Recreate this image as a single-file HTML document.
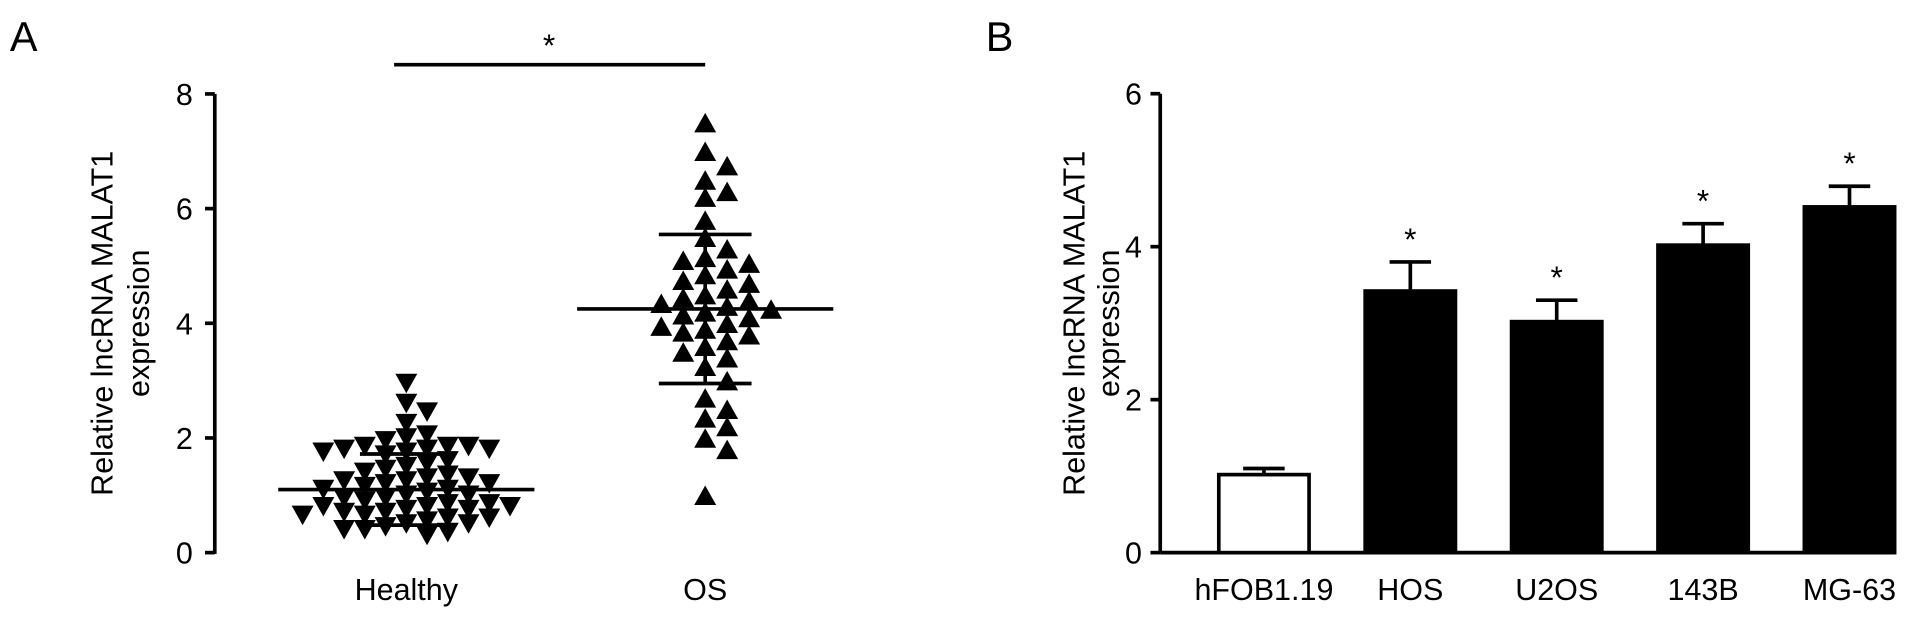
<!DOCTYPE html>
<html><head><meta charset="utf-8">
<style>
body{margin:0;background:#fff;}
svg{display:block;font-family:"Liberation Sans",Arial,sans-serif;}
</style></head>
<body>
<svg id="fig" width="1913" height="624" viewBox="0 0 1568 511.5">
<text x="8" y="42" font-size="34">A</text>
<text x="808" y="42" font-size="34">B</text>
<g id="pa"></g>
<g id="pb"></g>
</svg>
<script>
const healthyValues=[2.95,2.6,2.45,2.25,2.05,2.0,1.95,1.85,1.85,1.85,1.8,1.8,1.8,1.75,1.75,1.7,1.6,1.55,1.5,1.45,1.4,1.35,1.3,1.3,1.25,1.25,1.2,1.2,1.15,1.1,1.1,1.05,1.0,1.0,0.95,0.95,0.9,0.85,0.85,0.8,0.8,0.8,0.75,0.75,0.7,0.7,0.65,0.65,0.6,0.6,0.55,0.5,0.5,0.45,0.4,0.4,0.35,0.3];
const osValues=[7.5,7.0,6.75,6.5,6.3,6.2,5.8,5.5,5.3,5.15,5.1,5.05,4.95,4.85,4.75,4.7,4.6,4.5,4.45,4.4,4.35,4.3,4.25,4.2,4.15,4.1,4.0,3.95,3.9,3.85,3.8,3.7,3.6,3.5,3.4,3.25,3.0,2.7,2.5,2.35,2.2,2.0,1.8,1.0];
const scatterStats=[{mean:1.1,sd:0.62},{mean:4.25,sd:1.3}];
const scatterCats=["Healthy","OS"];
const scatterTicks=[0,2,4,6,8];

const barCats=["hFOB1.19","HOS","U2OS","143B","MG-63"];
const barValues=[1.02,3.42,3.02,4.02,4.52];
const barErrors=[0.08,0.38,0.28,0.28,0.27];
const barTicks=[0,2,4,6];

const NS="http://www.w3.org/2000/svg";
function mk(parent,tag,attrs,txt){const e=document.createElementNS(NS,tag);for(const k in attrs)e.setAttribute(k,attrs[k]);if(txt!==undefined)e.textContent=txt;parent.appendChild(e);return e;}

// Panel A
const pa=document.getElementById('pa');
const yA=v=>453-v*47;
const xA=i=>[333,578][i];
let ax=mk(pa,'line',{x1:176,y1:yA(8),x2:176,y2:yA(0)+1,stroke:'#000','stroke-width':3});


scatterTicks.forEach(t=>{
  mk(pa,'line',{x1:168,y1:yA(t),x2:176,y2:yA(t),stroke:'#000','stroke-width':3});
  const tl=mk(pa,'text',{x:158,y:yA(t)+9,'font-size':25,'text-anchor':'end'},t);
  
  
});
scatterCats.forEach((c,i)=>{
  const tl=mk(pa,'text',{x:xA(i),y:492,'font-size':25,'text-anchor':'middle'},c);
  
  
});
const ta=mk(pa,'text',{transform:'translate(92,265) rotate(-90)','font-size':25,'text-anchor':'middle'},'Relative lncRNA MALAT1');


const ta2=mk(pa,'text',{transform:'translate(122,265) rotate(-90)','font-size':25,'text-anchor':'middle'},'expression');


mk(pa,'line',{x1:323,y1:53,x2:578,y2:53,stroke:'#000','stroke-width':3});
const st=mk(pa,'text',{x:450,y:46,'font-size':26,'text-anchor':'middle'},'*');



function swarm(vals,cx,up,name,step,dyMin){
  const placed=[];
  vals.forEach(v=>{
    const y=yA(v);let x=cx;
    const cands=[0];for(let j=1;j<14;j++){cands.push(j,-j);}
    for(const c of cands){const xx=cx+c*step;
      if(!placed.some(p=>Math.abs(p.x-xx)<step-1&&Math.abs(p.y-y)<dyMin)){x=xx;break;}}
    placed.push({x,y});
    const h=8,w=9;
    const pts=up?`${x-w},${y+h} ${x+w},${y+h} ${x},${y-h}`:`${x-w},${y-h} ${x+w},${y-h} ${x},${y+h}`;
    const p=mk(pa,'polygon',{points:pts,fill:'#000'});
    
    
  });
}
swarm(healthyValues,xA(0),false,'healthy-point',17,11);
swarm(osValues,xA(1),true,'os-point',18,13);
scatterStats.forEach((s,i)=>{
  const cx=xA(i);
  mk(pa,'line',{x1:cx-105,y1:yA(s.mean),x2:cx+105,y2:yA(s.mean),stroke:'#000','stroke-width':3});
  mk(pa,'line',{x1:cx,y1:yA(s.mean-s.sd),x2:cx,y2:yA(s.mean+s.sd),stroke:'#000','stroke-width':3});
  mk(pa,'line',{x1:cx-38,y1:yA(s.mean-s.sd),x2:cx+38,y2:yA(s.mean-s.sd),stroke:'#000','stroke-width':3});
  mk(pa,'line',{x1:cx-38,y1:yA(s.mean+s.sd),x2:cx+38,y2:yA(s.mean+s.sd),stroke:'#000','stroke-width':3});
});

// Panel B
const pb=document.getElementById('pb');
const yB=v=>453-v*62.7;
const xB=i=>1036+i*120;
const axb=mk(pb,'line',{x1:951,y1:yB(6),x2:951,y2:yB(0),stroke:'#000','stroke-width':3});


const xab=mk(pb,'line',{x1:951,y1:yB(0),x2:1552,y2:yB(0),stroke:'#000','stroke-width':3});


barTicks.forEach(t=>{
  mk(pb,'line',{x1:943,y1:yB(t),x2:951,y2:yB(t),stroke:'#000','stroke-width':3});
  const tl=mk(pb,'text',{x:936,y:yB(t)+9,'font-size':25,'text-anchor':'end'},t);
  
  
});
const tb=mk(pb,'text',{transform:'translate(889,265) rotate(-90)','font-size':25,'text-anchor':'middle'},'Relative lncRNA MALAT1');


const tb2=mk(pb,'text',{transform:'translate(917,265) rotate(-90)','font-size':25,'text-anchor':'middle'},'expression');


barCats.forEach((c,i)=>{
  const cx=xB(i),v=barValues[i],e=barErrors[i],w=74;
  mk(pb,'line',{x1:cx,y1:yB(v),x2:cx,y2:yB(v+e),stroke:'#000','stroke-width':3});
  mk(pb,'line',{x1:cx-17,y1:yB(v+e),x2:cx+17,y2:yB(v+e),stroke:'#000','stroke-width':3});
  const r=mk(pb,'rect',{x:cx-w/2,y:yB(v),width:w,height:yB(0)-yB(v),fill:i===0?'#fff':'#000',stroke:'#000','stroke-width':3});
  
  
  const tl=mk(pb,'text',{x:cx,y:492,'font-size':25,'text-anchor':'middle'},c);
  
  
  if(i>0){const s=mk(pb,'text',{x:cx,y:yB(v+e)-10,'font-size':26,'text-anchor':'middle'},'*');
    
    }
});
</script>
</body></html>
